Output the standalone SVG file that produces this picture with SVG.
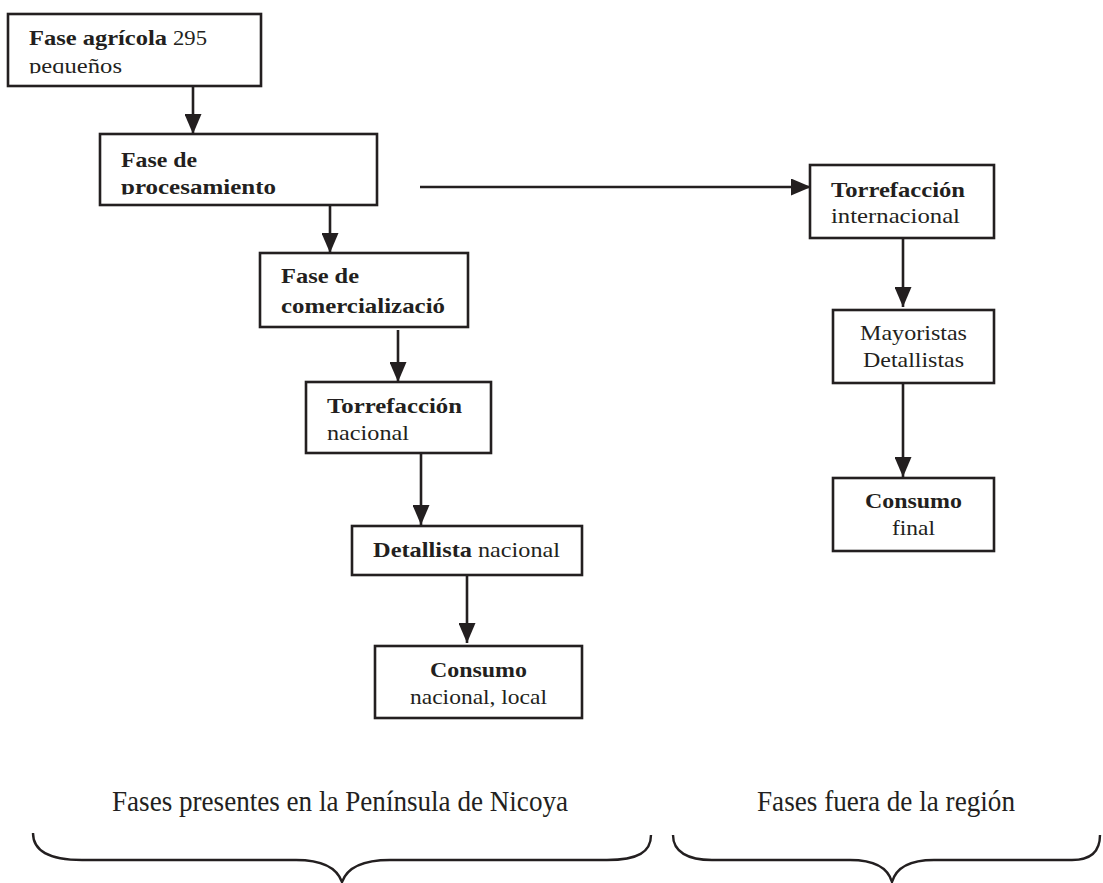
<svg xmlns="http://www.w3.org/2000/svg" width="1103" height="883" viewBox="0 0 1103 883">
<style>
.box{fill:#fff;stroke:#231f20;stroke-width:2.6}
.t{font-family:"Liberation Serif",serif;font-size:21px;fill:#231f20}
.b{font-weight:bold}
.conn{stroke:#231f20;stroke-width:2.6;fill:none}
.brace{stroke:#231f20;stroke-width:2.4;fill:none}
.lbl{font-family:"Liberation Serif",serif;font-size:29px;fill:#231f20}
</style>
<defs>
<marker id="ah" markerUnits="userSpaceOnUse" markerWidth="20" markerHeight="17" refX="20" refY="8.5" orient="auto">
<path d="M0,0 L20,8.5 L0,17 z" fill="#231f20"/>
</marker>
<clipPath id="c1"><rect x="0" y="0" width="300" height="73.5"/></clipPath>
<clipPath id="c2"><rect x="100" y="134" width="280" height="60.5"/></clipPath>
</defs>
<rect width="1103" height="883" fill="#fff"/>
<g id="connectors">
<line class="conn" x1="193" y1="86" x2="193" y2="134" marker-end="url(#ah)"/>
<line class="conn" x1="330" y1="205" x2="330" y2="253" marker-end="url(#ah)"/>
<line class="conn" x1="398" y1="330" x2="398" y2="382" marker-end="url(#ah)"/>
<line class="conn" x1="421" y1="453" x2="421" y2="525" marker-end="url(#ah)"/>
<line class="conn" x1="467" y1="571" x2="467" y2="643" marker-end="url(#ah)"/>
<line class="conn" x1="420" y1="187" x2="811" y2="187" marker-end="url(#ah)"/>
<line class="conn" x1="903" y1="234" x2="903" y2="307" marker-end="url(#ah)"/>
<line class="conn" x1="903" y1="378" x2="903" y2="477" marker-end="url(#ah)"/>
</g>
<g id="n1">
<rect class="box" x="8" y="14" width="253" height="72"/>
<g clip-path="url(#c1)">
<text class="t b" x="29" y="45" textLength="138" lengthAdjust="spacingAndGlyphs">Fase agrícola</text>
<text class="t" x="173" y="45" textLength="34" lengthAdjust="spacingAndGlyphs">295</text>
<text class="t" x="29" y="73" textLength="93" lengthAdjust="spacingAndGlyphs">pequeños</text>
</g>
</g>
<g id="n2">
<rect class="box" x="100" y="134" width="277" height="71"/>
<g clip-path="url(#c2)">
<text class="t b" x="121" y="167" textLength="76" lengthAdjust="spacingAndGlyphs">Fase de</text>
<text class="t b" x="121" y="194" textLength="155" lengthAdjust="spacingAndGlyphs">procesamiento</text>
</g>
</g>
<g id="n3">
<rect class="box" x="260" y="253" width="208" height="74"/>
<text class="t b" x="281" y="283" textLength="78" lengthAdjust="spacingAndGlyphs">Fase de</text>
<text class="t b" x="281" y="313" textLength="164" lengthAdjust="spacingAndGlyphs">comercializació</text>
</g>
<g id="n4">
<rect class="box" x="306" y="382" width="185" height="71"/>
<text class="t b" x="327" y="413" textLength="135" lengthAdjust="spacingAndGlyphs">Torrefacción</text>
<text class="t" x="327" y="440" textLength="82" lengthAdjust="spacingAndGlyphs">nacional</text>
</g>
<g id="n5">
<rect class="box" x="352" y="526" width="230" height="49"/>
<text class="t b" x="373" y="557" textLength="99" lengthAdjust="spacingAndGlyphs">Detallista</text>
<text class="t" x="478" y="557" textLength="82" lengthAdjust="spacingAndGlyphs">nacional</text>
</g>
<g id="n6">
<rect class="box" x="375" y="646" width="207" height="72"/>
<text class="t b" x="430" y="677" textLength="97" lengthAdjust="spacingAndGlyphs">Consumo</text>
<text class="t" x="410" y="704" textLength="137" lengthAdjust="spacingAndGlyphs">nacional, local</text>
</g>
<g id="n7">
<rect class="box" x="810" y="165" width="184" height="73"/>
<text class="t b" x="831" y="197" textLength="134" lengthAdjust="spacingAndGlyphs">Torrefacción</text>
<text class="t" x="831" y="223" textLength="129" lengthAdjust="spacingAndGlyphs">internacional</text>
</g>
<g id="n8">
<rect class="box" x="833" y="310" width="161" height="73"/>
<text class="t" x="860" y="340" textLength="107" lengthAdjust="spacingAndGlyphs">Mayoristas</text>
<text class="t" x="863" y="367" textLength="101" lengthAdjust="spacingAndGlyphs">Detallistas</text>
</g>
<g id="n9">
<rect class="box" x="833" y="478" width="161" height="73"/>
<text class="t b" x="865" y="508" textLength="97" lengthAdjust="spacingAndGlyphs">Consumo</text>
<text class="t" x="892" y="535" textLength="43" lengthAdjust="spacingAndGlyphs">final</text>
</g>
<g id="region-left">
<text class="lbl" x="112" y="811" textLength="456" lengthAdjust="spacingAndGlyphs">Fases presentes en la Península de Nicoya</text>
<path class="brace" d="M33,833 C33,852 50,860 82,860 L296,860 C322,860 337,868 342,882 C347,868 362,860 390,860 L607,860 C638,860 651,852 651,835"/>
</g>
<g id="region-right">
<text class="lbl" x="757" y="811" textLength="258" lengthAdjust="spacingAndGlyphs">Fases fuera de la región</text>
<path class="brace" d="M673,835 C673,852 688,860 712,860 L850,860 C874,860 888,868 892,882 C896,868 910,860 934,860 L1072,860 C1090,860 1100,852 1100,835"/>
</g>
</svg>
